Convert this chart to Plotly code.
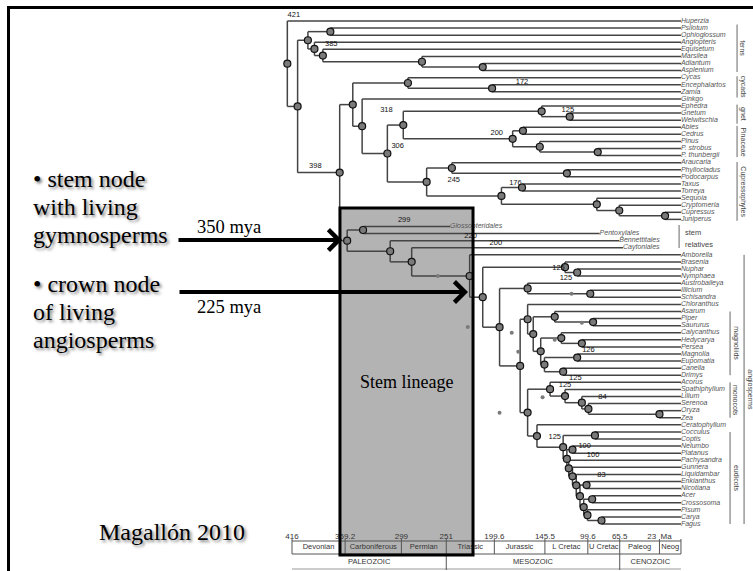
import plotly.graph_objects as go

W, H = 753, 571

# ---------------- data ----------------
taxa = ["Huperzia", "Psilotum", "Ophioglossum", "Angiopteris", "Equisetum", "Marsilea", "Adiantum", "Asplenium",
        "Cycas", "Encephalartos", "Zamia", "Ginkgo", "Ephedra", "Gnetum", "Welwitschia",
        "Abies", "Cedrus", "Pinus", "P. strobus", "P. thunbergii",
        "Araucaria", "Phyllocladus", "Podocarpus", "Taxus", "Torreya", "Sequoia", "Cryptomeria", "Cupressus", "Juniperus",
        "Glossopteridales", "Pentoxylales", "Bennettitales", "Caytoniales",
        "Amborella", "Brasenia", "Nuphar", "Nymphaea", "Austrobaileya", "Illicium", "Schisandra", "Chloranthus",
        "Asarum", "Piper", "Saururus", "Calycanthus", "Hedycarya", "Persea", "Magnolia", "Eupomatia", "Canella", "Drimys",
        "Acorus", "Spathiphyllum", "Lilium", "Serenoa", "Oryza", "Zea",
        "Ceratophyllum", "Cocculus", "Coptis", "Nelumbo", "Platanus", "Pachysandra", "Gunnera", "Liquidambar",
        "Enkianthus", "Nicotiana", "Acer", "Crossosoma", "Pisum", "Carya", "Fagus"]

fossil_taxa = ["Glossopteridales", "Pentoxylales", "Bennettitales", "Caytoniales"]
fossil_last_age = [247, 87, 66, 62]

node_name = ["root", "euphyll", "ferns", "psilo", "f2", "f3", "f4", "f5",
             "seed", "gymno", "cyc", "ez", "gink", "conif", "gnpin", "gnet", "gw", "pina", "abce", "pinus", "ps",
             "cupr", "arau", "podo", "taxcup", "taxa", "cupc", "cc", "cj",
             "stem", "glpe", "benn", "cayt", "angio", "a2", "nymph", "nn", "a3", "austro", "is",
             "meso", "chlmag", "magn", "piperales", "ps2", "lmc", "laurales", "hp", "mc", "magnoliales", "canellales",
             "moneud", "monocots", "m2", "m3", "m4", "oz", "ceud", "eud", "ranunc", "e2", "proteales", "e3", "e4",
             "core", "astros", "asterids", "rosids", "malvids", "fabids", "cf"]
node_age = [421, 410, 399, 375, 392, 383, 277, 212,
            365, 351, 292, 202, 341, 314, 297, 149, 119, 180, 169, 151, 89,
            272, 245, 122, 192, 170, 90, 66, 17,
            357, 340, 311, 288, 226, 212, 124, 111, 194, 164, 97,
            172, 164, 158, 135, 94, 150, 128, 106, 146, 111, 126,
            164, 140, 124, 106, 99, 23, 154, 126, 92, 122, 116, 120, 116,
            112, 108, 101, 104, 95, 100, 85]
node_children = [["Huperzia", "euphyll"], ["ferns", "seed"], ["psilo", "f2"], ["Psilotum", "Ophioglossum"],
                 ["Angiopteris", "f3"], ["Equisetum", "f4"], ["Marsilea", "f5"], ["Adiantum", "Asplenium"],
                 ["gymno", "stem"], ["cyc", "gink"], ["Cycas", "ez"], ["Encephalartos", "Zamia"],
                 ["Ginkgo", "conif"], ["gnpin", "cupr"], ["gnet", "pina"], ["Ephedra", "gw"],
                 ["Gnetum", "Welwitschia"], ["abce", "pinus"], ["Abies", "Cedrus"], ["Pinus", "ps"],
                 ["P. strobus", "P. thunbergii"], ["arau", "taxcup"], ["Araucaria", "podo"],
                 ["Phyllocladus", "Podocarpus"], ["taxa", "cupc"], ["Taxus", "Torreya"], ["Sequoia", "cc"],
                 ["Cryptomeria", "cj"], ["Cupressus", "Juniperus"],
                 ["glpe", "benn"], ["Glossopteridales", "Pentoxylales"], ["Bennettitales", "cayt"],
                 ["Caytoniales", "angio"], ["Amborella", "a2"], ["nymph", "a3"], ["Brasenia", "nn"],
                 ["Nuphar", "Nymphaea"], ["austro", "meso"], ["Austrobaileya", "is"], ["Illicium", "Schisandra"],
                 ["chlmag", "moneud"], ["Chloranthus", "magn"], ["piperales", "lmc"], ["Asarum", "ps2"],
                 ["Piper", "Saururus"], ["laurales", "mc"], ["Calycanthus", "hp"], ["Hedycarya", "Persea"],
                 ["magnoliales", "canellales"], ["Magnolia", "Eupomatia"], ["Canella", "Drimys"],
                 ["monocots", "ceud"], ["Acorus", "m2"], ["Spathiphyllum", "m3"], ["Lilium", "m4"],
                 ["Serenoa", "oz"], ["Oryza", "Zea"], ["Ceratophyllum", "eud"], ["ranunc", "e2"],
                 ["Cocculus", "Coptis"], ["proteales", "e3"], ["Nelumbo", "Platanus"], ["Pachysandra", "e4"],
                 ["Gunnera", "core"], ["Liquidambar", "astros"], ["asterids", "rosids"],
                 ["Enkianthus", "Nicotiana"], ["malvids", "fabids"], ["Acer", "Crossosoma"],
                 ["Pisum", "cf"], ["Carya", "Fagus"]]

# fossil points (age Ma, row)
dot_age = [228, 181, 174, 148, 194, 260, 117, 106, 135]
dot_row = [43.2, 44.0, 46.7, 53.1, 55.3, 36.0, 38.5, 42.6, 45.0]

# calibration labels (text, age position, row position)
cal_text = ["421", "385", "398", "318", "306", "299", "245", "200", "172", "176", "125", "220", "200",
            "125", "125", "126", "125", "125", "84", "125", "100", "100", "83"]
cal_age = [414, 374, 391, 315, 303, 296, 243, 197, 170, 177, 121, 225, 198,
           131, 123, 99, 113, 124, 84, 135, 103, 94, 85]
cal_row = [-0.85, 3.25, 20.5, 12.6, 17.6, 28.1, 22.4, 15.8, 8.6, 22.9, 12.6, 30.3, 31.3,
           34.9, 36.3, 46.4, 50.4, 51.4, 53.1, 58.7, 60.0, 61.3, 64.1]

# geological time scale
period_names = ["Devonian", "Carboniferous", "Permian", "Triassic", "Jurassic", "L Cretac", "U Cretac", "Paleog", "Neog"]
period_start = [416, 359.2, 299, 251, 199.6, 145.5, 99.6, 65.5, 23]
period_end = [359.2, 299, 251, 199.6, 145.5, 99.6, 65.5, 23, 0]
era_names = ["PALEOZOIC", "MESOZOIC", "CENOZOIC"]
era_start = [416, 251, 65.5]
era_end = [251, 65.5, 0]
tick_vals = [416, 359.2, 299, 251, 199.6, 145.5, 99.6, 65.5, 23]
tick_text = ["416", "359.2", "299", "251", "199.6", "145.5", "99.6", "65.5", "23  Ma"]

# clade brackets on the right
clade_names = ["ferns", "cycads", "gnet", "Pinaceae", "Cupressophytes", "magnoliids", "monocots", "eudicots", "angiosperms"]
clade_row0 = [0.5, 7.8, 11.8, 14.8, 19.9, 41, 51, 58, 33]
clade_row1 = [7.2, 10.8, 14.5, 19.2, 28.2, 50, 56, 71, 71]
clade_bar_age = [-60, -60, -60, -60, -60, -52.5, -52.5, -52.5, -67.5]

stem_box_age = [364.7, 222.4]   # span of the shaded stem lineage (Ma)

# ---------------- geometry ----------------
T0, X0, KX = 416.0, 292.0, 0.935      # px = X0 + (T0 - t) * KX
Y0, KY = 21.0, 7.085                  # px = Y0 + row * KY
x_range = [T0 + X0 / KX, T0 - (W - X0) / KX]
y_range = [(H - Y0) / KY, -Y0 / KY]


def prow(py):
    return (py - Y0) / KY


def PX(x):
    return x / W


def PY(y):
    return 1 - y / H


SANS = "Liberation Sans, Arial, sans-serif"
SERIF = "Liberation Serif, Times New Roman, serif"

row = {n: i for i, n in enumerate(taxa)}
end_age = {n: 0.0 for n in taxa}
for n, a in zip(fossil_taxa, fossil_last_age):
    end_age[n] = a
nage = dict(zip(node_name, node_age))
nkids = dict(zip(node_name, node_children))
ypos = {}


def gety(n):
    if n in row:
        return row[n]
    if n not in ypos:
        ys = [gety(c) for c in nkids[n]]
        ypos[n] = sum(ys) / len(ys)
    return ypos[n]


def getx(n):
    return end_age[n] if n in row else nage[n]


segx, segy = [], []
for n in node_name:
    a = nage[n]
    ys = [gety(c) for c in nkids[n]]
    segx += [a, a, None]
    segy += [min(ys), max(ys), None]
    for c in nkids[n]:
        segx += [a, getx(c), None]
        segy += [gety(c), gety(c), None]

fig = go.Figure()

fig.add_trace(go.Scatter(x=segx, y=segy, mode="lines", line=dict(color="#444444", width=1.5),
                         hoverinfo="skip"))
fig.add_trace(go.Scatter(x=[nage[n] for n in node_name], y=[gety(n) for n in node_name], mode="markers",
                         marker=dict(symbol="circle", size=7, color="#7a7a7a",
                                     line=dict(color="#111111", width=1.2)), hoverinfo="skip"))
fig.add_trace(go.Scatter(x=dot_age, y=dot_row, mode="markers",
                         marker=dict(size=4, color="#7a7a7a"), hoverinfo="skip"))
fig.add_trace(go.Scatter(x=[end_age[t] for t in taxa], y=list(range(len(taxa))), mode="text", text=taxa,
                         textposition="middle right",
                         textfont=dict(family=SANS, size=7, color="#555555", style="italic"),
                         hoverinfo="skip"))
fig.add_trace(go.Scatter(x=cal_age, y=cal_row, mode="text", text=cal_text, textposition="middle center",
                         textfont=dict(family=SANS, size=7.5, color="#111111"), hoverinfo="skip"))

# time scale texts
fig.add_trace(go.Scatter(x=tick_vals, y=[prow(537)] * len(tick_vals), mode="text", text=tick_text,
                         textposition="middle center", textfont=dict(family=SANS, size=8, color="#333"),
                         hoverinfo="skip"))
fig.add_trace(go.Scatter(x=[(a + b) / 2 for a, b in zip(period_start, period_end)],
                         y=[prow(547.5)] * len(period_names), mode="text", text=period_names,
                         textposition="middle center", textfont=dict(family=SANS, size=7.5, color="#333"),
                         hoverinfo="skip"))
fig.add_trace(go.Scatter(x=[(a + b) / 2 for a, b in zip(era_start, era_end)],
                         y=[prow(562)] * len(era_names), mode="text", text=era_names,
                         textposition="middle center", textfont=dict(family=SANS, size=7.5, color="#333"),
                         hoverinfo="skip"))

shapes = []
# shaded stem lineage box (fill below, border above)
shapes.append(dict(type="rect", xref="x", yref="y", x0=stem_box_age[0], x1=stem_box_age[1],
                   y0=prow(208), y1=prow(555), fillcolor="#b3b3b3", line=dict(width=0), layer="below"))
# time scale lines
for v in [prow(541), prow(554)]:
    shapes.append(dict(type="line", xref="x", yref="y", x0=416, x1=0, y0=v, y1=v,
                       line=dict(color="#555", width=1)))
shapes.append(dict(type="line", xref="x", yref="y", x0=416, x1=0, y0=prow(569), y1=prow(569),
                   line=dict(color="#999", width=1)))
for t in period_start + [0]:
    shapes.append(dict(type="line", xref="x", yref="y", x0=t, x1=t, y0=prow(539), y1=prow(554),
                       line=dict(color="#555", width=1)))
for t in era_start[1:]:
    shapes.append(dict(type="line", xref="x", yref="y", x0=t, x1=t, y0=prow(554), y1=prow(570),
                       line=dict(color="#555", width=1)))
# clade brackets
for r0, r1, a in zip(clade_row0, clade_row1, clade_bar_age):
    shapes.append(dict(type="line", xref="x", yref="y", x0=a, x1=a, y0=r0, y1=r1,
                       line=dict(color="#666", width=1)))
# stem relatives bracket
shapes.append(dict(type="line", xref="x", yref="y", x0=2, x1=2, y0=prow(225), y1=prow(248),
                   line=dict(color="#666", width=1)))
# box border
shapes.append(dict(type="rect", xref="x", yref="y", x0=stem_box_age[0], x1=stem_box_age[1],
                   y0=prow(208), y1=prow(555), fillcolor="rgba(0,0,0,0)", line=dict(color="black", width=3),
                   layer="above"))
# slide frame
shapes.append(dict(type="line", xref="paper", yref="paper", x0=PX(7), x1=1, y0=PY(7.5), y1=PY(7.5),
                   line=dict(color="black", width=3)))
shapes.append(dict(type="line", xref="paper", yref="paper", x0=PX(8.5), x1=PX(8.5), y0=PY(6), y1=0,
                   line=dict(color="black", width=3)))

ann = []
shadow = "2px 2px 3px rgba(0,0,0,0.5)"
left_lines = [("• stem node", 179), ("with living", 207), ("gymnosperms", 235),
              ("• crown node", 284), ("of living", 312), ("angiosperms", 340)]
for txt, yc in left_lines:
    ann.append(dict(text=txt, xref="paper", yref="paper", x=PX(31), y=PY(yc), xanchor="left", yanchor="middle",
                    showarrow=False, font=dict(family=SERIF, size=24, color="black", shadow=shadow)))
ann.append(dict(text="350 mya", xref="paper", yref="paper", x=PX(229), y=PY(227), xanchor="center",
                yanchor="middle", showarrow=False, font=dict(family=SERIF, size=18.5, color="black")))
ann.append(dict(text="225 mya", xref="paper", yref="paper", x=PX(229), y=PY(307), xanchor="center",
                yanchor="middle", showarrow=False, font=dict(family=SERIF, size=18.5, color="black")))
ann.append(dict(text="", xref="paper", yref="paper", x=PX(342), y=PY(240), ax=-165, ay=0, showarrow=True,
                arrowhead=4, arrowsize=1, arrowwidth=4, arrowcolor="black"))
ann.append(dict(text="", xref="paper", yref="paper", x=PX(468), y=PY(292), ax=-290, ay=0, showarrow=True,
                arrowhead=4, arrowsize=1, arrowwidth=4, arrowcolor="black"))
ann.append(dict(text="Stem lineage", xref="paper", yref="paper", x=PX(406), y=PY(382), xanchor="center",
                yanchor="middle", showarrow=False, font=dict(family=SERIF, size=18, color="black")))
ann.append(dict(text="Magallón 2010", xref="paper", yref="paper", x=PX(172), y=PY(532), xanchor="center",
                yanchor="middle", showarrow=False, font=dict(family=SERIF, size=24, color="black", shadow=shadow)))
for nm, r0, r1, a in zip(clade_names, clade_row0, clade_row1, clade_bar_age):
    ann.append(dict(text=nm, xref="x", yref="y", x=a, y=(r0 + r1) / 2, xshift=6, xanchor="center",
                    yanchor="middle", textangle=90, showarrow=False,
                    font=dict(family=SANS, size=7, color="#444")))
ann.append(dict(text="stem", xref="paper", yref="paper", x=PX(683), y=PY(232), xanchor="left",
                yanchor="middle", showarrow=False, font=dict(family=SANS, size=7.5, color="#444")))
ann.append(dict(text="relatives", xref="paper", yref="paper", x=PX(683), y=PY(244), xanchor="left",
                yanchor="middle", showarrow=False, font=dict(family=SANS, size=7.5, color="#444")))

fig.update_layout(width=W, height=H, margin=dict(l=0, r=0, t=0, b=0), paper_bgcolor="white",
                  plot_bgcolor="white", showlegend=False, shapes=shapes, annotations=ann,
                  xaxis=dict(range=x_range, visible=False, fixedrange=True),
                  yaxis=dict(range=y_range, visible=False, fixedrange=True))

fig.write_html("out.html", config={"displayModeBar": False, "staticPlot": True},
               post_script="document.body.style.margin='0px';")
